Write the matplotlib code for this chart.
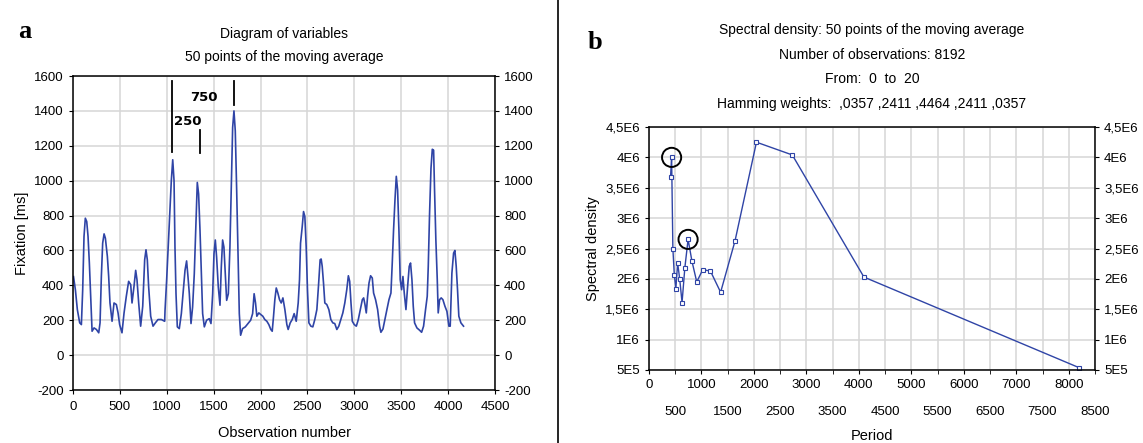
import matplotlib
matplotlib.use("Agg")
import matplotlib.pyplot as plt
from matplotlib.lines import Line2D
from matplotlib.ticker import FixedLocator, FixedFormatter

plt.rcParams['font.family'] = ['Liberation Sans', 'DejaVu Sans']
plt.rcParams['axes.unicode_minus'] = False

#panel a: moving average of fixation times
obs = [5, 25, 46, 71, 89, 103, 117, 131, 146, 160, 174, 188, 203, 224, 249, 274, 288, 302, 316, 331,
       345, 366, 380, 394, 416, 437, 462, 480, 497, 522, 544, 568, 593, 615, 629, 650, 668, 682, 700, 721,
       743, 764, 778, 792, 806, 828, 853, 878, 906, 942, 977,
       981, 998, 1016, 1034, 1048, 1063, 1077, 1087, 1098, 1112, 1133, 1155, 1176, 1194, 1211, 1226, 1240,
       1258, 1275, 1293, 1311, 1325, 1339, 1354, 1368, 1382, 1400, 1424, 1453, 1471, 1489, 1503, 1517, 1531,
       1549, 1567, 1581, 1595, 1609, 1624, 1638, 1656, 1673, 1688, 1702, 1716, 1730, 1745, 1759, 1773, 1787,
       1808, 1837, 1865, 1894, 1915,
       1931, 1946, 1960, 1981, 2003, 2024, 2045, 2067, 2088, 2109, 2124, 2138, 2152, 2167, 2184, 2202, 2220,
       2238, 2259, 2280, 2294, 2316, 2337, 2358, 2380, 2401, 2415, 2426, 2444, 2458, 2472, 2486, 2500, 2515,
       2536, 2557, 2578, 2600, 2617, 2635, 2646, 2657, 2671, 2685, 2706, 2728, 2749, 2770, 2791, 2813, 2834,
       2855, 2877, 2898, 2919, 2936, 2950, 2964, 2978, 2999, 3021, 3042, 3063, 3085, 3099, 3113, 3127, 3141,
       3156, 3173, 3191, 3205, 3226, 3248, 3269, 3283, 3305, 3326, 3347, 3369, 3390, 3404, 3418, 3433, 3447,
       3461, 3475, 3489, 3504, 3518, 3532, 3550, 3568, 3585, 3599, 3614, 3628, 3642, 3667, 3695, 3717, 3738,
       3759, 3777, 3788, 3802, 3817, 3831, 3845, 3855, 3869, 3884, 3894, 3909, 3926, 3944, 3966, 3987, 4008,
       4022, 4040, 4058, 4072, 4086, 4100, 4114, 4136, 4164]
fixation = [450, 375, 261, 185, 175, 375, 680, 785, 766, 680, 528, 337, 137, 156, 147, 128, 185, 451, 642, 695,
            670, 566, 451, 299, 194, 299, 290, 242, 175, 128, 242, 337, 423, 404, 299, 394, 486, 432, 299, 166,
            280, 547, 604, 547, 394, 223, 166, 185, 204, 204, 194,
            257, 428, 638, 848, 1000, 1120, 1000, 619, 352, 162, 152, 238, 371, 486, 540, 448, 352,
            181, 276, 467, 752, 990, 924, 714, 467, 238, 162, 200, 209, 181, 352, 581, 660, 562,
            390, 286, 505, 660, 619, 467, 314, 352, 619, 981, 1305, 1400, 1286, 943, 581, 238, 114,
            152, 162, 181, 200, 238,
            352, 299, 223, 242, 232, 223, 204, 194, 175, 147, 137, 223, 318, 385, 356, 318, 299,
            328, 261, 175, 147, 185, 204, 238, 194, 299, 432, 642, 737, 823, 794, 623, 375, 185,
            166, 162, 204, 261, 394, 547, 551, 509, 413, 299, 290, 261, 204, 185, 181, 147, 166,
            204, 242, 299, 375, 455, 423, 299, 194, 175, 166, 204, 261, 318, 328, 290, 242, 337,
            413, 455, 442, 356, 318, 261, 166, 131, 150, 204, 261, 318, 356, 528, 718, 890, 1025,
            947, 718, 432, 375, 451, 356, 261, 394, 509, 528, 432, 280, 185, 156, 143, 131, 166,
            261, 337, 509, 813, 1071, 1180, 1175, 947, 661, 432, 242, 318, 328, 318, 280, 251, 166,
            166, 470, 585, 600, 509, 375, 223, 185, 166]

#annotation marks on panel a: x, bottom, top
mark_x = [1057, 1354, 1717]
mark_lo = [1166, 1158, 1434]
mark_hi = [1570, 1292, 1573]
mark_text = ["250", "750"]
mark_text_x = [1220, 1400]
mark_text_y = [1338, 1474]

#panel b: spectral density vs period (8192/k)
period = [410, 431, 455, 482, 512, 546, 585, 630, 683, 745, 819, 910, 1024, 1170, 1365, 1638, 2048, 2731, 4096, 8192]
density = [3.67e6, 4.0e6, 2.5e6, 2.07e6, 1.84e6, 2.26e6, 2.0e6, 1.61e6, 2.18e6, 2.65e6, 2.29e6, 1.95e6,
           2.15e6, 2.13e6, 1.78e6, 2.62e6, 4.25e6, 4.04e6, 2.03e6, 5.4e5]
circled = [1, 9]

yticks_b = [5e5, 1e6, 1.5e6, 2e6, 2.5e6, 3e6, 3.5e6, 4e6, 4.5e6]
ylabels_b = ["5E5", "1E6", "1,5E6", "2E6", "2,5E6", "3E6", "3,5E6", "4E6", "4,5E6"]
xticks_top = [0, 1000, 2000, 3000, 4000, 5000, 6000, 7000, 8000]
xticks_low = [500, 1500, 2500, 3500, 4500, 5500, 6500, 7500, 8500]

blue = '#2f44a6'
grid_col = '#d6d6d6'
fs = 9.5

fig = plt.figure(figsize=(11.43, 4.43), dpi=100)

def style_axes(ax):
    ax.grid(True, which='both', color=grid_col, linewidth=1.1)
    ax.set_axisbelow(True)
    for s in ax.spines.values():
        s.set_linewidth(1.1)
    ax.tick_params(which='both', direction='out', length=3, labelsize=fs, right=True, labelright=True)

#---- panel a ----
ax1 = fig.add_axes([0.0639, 0.1196, 0.3692, 0.7088])
ax1.plot(obs, fixation, color=blue, linewidth=1.2)
ax1.set_xlim(0, 4500)
ax1.set_ylim(-200, 1600)
ax1.set_xticks(range(0, 4501, 500))
ax1.set_yticks(range(-200, 1601, 200))
style_axes(ax1)
ax1.tick_params(axis='x', pad=5)
ax1.set_xlabel("Observation number", fontsize=10.5, labelpad=9)
ax1.set_ylabel("Fixation [ms]", fontsize=10.5, labelpad=4)
ax1.set_title("Diagram of variables\n50 points of the moving average", fontsize=10, linespacing=1.75, pad=11)
for x, lo, hi in zip(mark_x, mark_lo, mark_hi):
    ax1.plot([x, x], [lo, hi], color='black', linewidth=1.3)
for t, x, y in zip(mark_text, mark_text_x, mark_text_y):
    ax1.text(x, y, t, fontsize=9.5, fontweight='bold', family='DejaVu Sans', ha='center', va='center')

#---- panel b ----
ax2 = fig.add_axes([0.5678, 0.1648, 0.3902, 0.5485])
ax2.plot(period, density, color=blue, linewidth=1.0, marker='s', markersize=3.0,
         markerfacecolor='white', markeredgecolor=blue, markeredgewidth=0.8)
ax2.scatter([period[i] for i in circled], [density[i] for i in circled], s=190,
            facecolors='none', edgecolors='black', linewidths=1.4, zorder=5)
ax2.set_xlim(0, 8500)
ax2.set_ylim(5e5, 4.5e6)
#two rows of x labels: thousands on top, the 500s underneath
ax2.xaxis.set_major_locator(FixedLocator(xticks_top))
ax2.xaxis.set_major_formatter(FixedFormatter([str(v) for v in xticks_top]))
ax2.xaxis.set_minor_locator(FixedLocator(xticks_low))
ax2.xaxis.set_minor_formatter(FixedFormatter([str(v) for v in xticks_low]))
ax2.yaxis.set_major_locator(FixedLocator(yticks_b))
ax2.yaxis.set_major_formatter(FixedFormatter(ylabels_b))
style_axes(ax2)
ax2.tick_params(axis='x', which='minor', pad=23)
ax2.set_xlabel("Period", fontsize=10.5, labelpad=8)
ax2.set_ylabel("Spectral density", fontsize=10.5, labelpad=4)
ax2.set_title("Spectral density: 50 points of the moving average\nNumber of observations: 8192\n"
              "From:  0  to  20\nHamming weights:  ,0357 ,2411 ,4464 ,2411 ,0357",
              fontsize=10, linespacing=1.95, pad=14)

#panel letters and divider
fig.text(0.016, 0.93, "a", family='Liberation Serif', fontweight='bold', fontsize=19, va='center')
fig.text(0.514, 0.905, "b", family='Liberation Serif', fontweight='bold', fontsize=19, va='center')
fig.add_artist(Line2D([0.488, 0.488], [0.0, 1.0], color='black', linewidth=1.2))

fig.savefig("out.png", dpi=100)
